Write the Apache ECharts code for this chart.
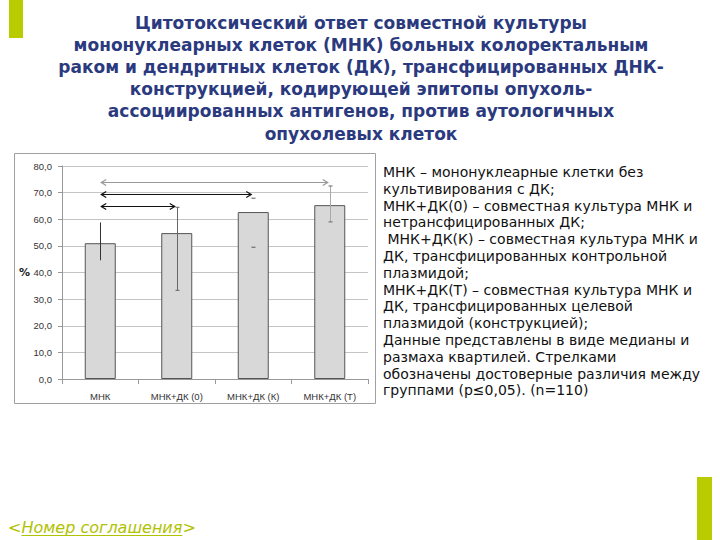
<!DOCTYPE html>
<html><head><meta charset="utf-8">
<script src="https://cdn.jsdelivr.net/npm/echarts@6/dist/echarts.min.js"></script>
<style>html,body{margin:0;padding:0;background:#fff}#c{width:720px;height:540px}</style>
</head><body><div id="c"></div>
<script>
var categories = ['МНК', 'МНК+ДК (0)', 'МНК+ДК (К)', 'МНК+ДК (Т)'];
var medians = [51.0, 54.8, 62.7, 65.3];
var q1 = [44.6, 33.3, 49.5, 59.0];
var q3 = [58.8, 64.5, 67.9, 72.5];
// significance arrows: [from category, to category, level]
var arrowsData = [[0, 1, 64.8], [0, 2, 69.4], [0, 3, 73.9]];
var yTicks = {min: 0, max: 80, interval: 10};

var titleLines = [
  'Цитотоксический ответ совместной культуры',
  'мононуклеарных клеток (МНК) больных колоректальным',
  'раком и дендритных клеток (ДК), трансфицированных ДНК-',
  'конструкцией, кодирующей эпитопы опухоль-',
  'ассоциированных антигенов, против аутологичных',
  'опухолевых клеток'
];
var noteLines = [
  'МНК – мононуклеарные клетки без',
  'культивирования с ДК;',
  'МНК+ДК(0) – совместная культура МНК и',
  'нетрансфицированных ДК;',
  ' МНК+ДК(К) – совместная культура МНК и',
  'ДК, трансфицированных контрольной',
  'плазмидой;',
  'МНК+ДК(Т) – совместная культура МНК и',
  'ДК, трансфицированных целевой',
  'плазмидой (конструкцией);',
  'Данные представлены в виде медианы и',
  'размаха квартилей. Стрелками',
  'обозначены достоверные различия между',
  'группами (р≤0,05). (n=110)'
];
var footerText = 'Номер соглашения';

var errStyles = [
  {line: '#333', cap: 0, w: 1},
  {line: '#666', cap: 4, w: 1},
  {line: null, cap: 4, w: 1, capColor: '#555'},
  {line: '#aaa', cap: 4, w: 1, capColor: '#666'}
];
var arrowColors = ['#111', '#111', '#999'];

function measure(text, font) {
  var ctx = document.createElement('canvas').getContext('2d');
  ctx.font = font;
  return ctx.measureText(text).width;
}

var chart = echarts.init(document.getElementById('c'), null, {renderer: 'svg'});

var green = '#b8cc00';
var footColor = '#b0c200';
var footFont = 'italic 16px "DejaVu Sans"';
var graphics = [
  {type: 'rect', shape: {x: 9, y: 0, width: 14, height: 38}, style: {fill: green}},
  {type: 'rect', shape: {x: 697, y: 477, width: 15, height: 63}, style: {fill: green}},
  {type: 'rect', shape: {x: 14.5, y: 153.5, width: 361, height: 250}, style: {fill: 'none', stroke: '#a0a0a0', lineWidth: 1}, z: -1},
  {type: 'text', x: 19, y: 272, style: {text: '%', fill: '#222', font: 'bold 11px "DejaVu Sans"', verticalAlign: 'middle'}}
];
titleLines.forEach(function (t, i) {
  graphics.push({type: 'text', x: 361, y: 23 + i * 22.1, style: {text: t, fill: '#2b3a7e', font: 'bold 17px "DejaVu Sans"', align: 'center', verticalAlign: 'middle'}});
});
noteLines.forEach(function (t, i) {
  graphics.push({type: 'text', x: 383, y: 172 + i * 16.8, style: {text: t, fill: '#111', font: '14px "DejaVu Sans"', align: 'left', verticalAlign: 'middle'}});
});
var wLt = measure('<', footFont);
var wMid = measure(footerText, footFont);
var fx = 8;
graphics.push({type: 'text', x: fx, y: 527, style: {text: '<', fill: footColor, font: footFont, verticalAlign: 'middle'}});
graphics.push({type: 'text', x: fx + wLt, y: 527, style: {text: footerText, fill: footColor, font: footFont, verticalAlign: 'middle'}});
graphics.push({type: 'text', x: fx + wLt + wMid, y: 527, style: {text: '>', fill: footColor, font: footFont, verticalAlign: 'middle'}});
graphics.push({type: 'line', shape: {x1: fx + wLt, y1: 535.5, x2: fx + wLt + wMid, y2: 535.5}, style: {stroke: footColor, lineWidth: 1}});

var errData = categories.map(function (c, i) { return [i, q1[i], q3[i]]; });

chart.setOption({
  animation: false,
  grid: {left: 62, top: 166, right: 352, bottom: 161, containLabel: false},
  xAxis: {
    type: 'category', data: categories,
    axisLine: {lineStyle: {color: '#999'}},
    axisTick: {show: true, alignWithLabel: false, length: 5, lineStyle: {color: '#999'}},
    axisLabel: {color: '#333', fontSize: 9.5, fontFamily: 'Liberation Sans', margin: 12}
  },
  yAxis: {
    type: 'value', min: yTicks.min, max: yTicks.max, interval: yTicks.interval,
    axisLine: {show: true, lineStyle: {color: '#999'}},
    axisTick: {show: true, length: 4, lineStyle: {color: '#999'}},
    splitLine: {lineStyle: {color: '#c4c4c4'}},
    axisLabel: {color: '#333', fontSize: 9.5, fontFamily: 'Liberation Sans', margin: 10,
      formatter: function (v) { return v.toFixed(1).replace('.', ','); }}
  },
  graphic: graphics,
  series: [
    {type: 'bar', data: medians, barWidth: 31,
      itemStyle: {color: '#d8d8d8', borderColor: '#555', borderWidth: 1}},
    {type: 'custom', data: errData, z: 5,
      renderItem: function (params, api) {
        var i = api.value(0);
        var st = errStyles[i];
        var lo = api.coord([i, api.value(1)]);
        var hi = api.coord([i, api.value(2)]);
        var x = Math.round(lo[0]) + 0.5;
        var children = [];
        if (st.line) children.push({type: 'line', shape: {x1: x, y1: lo[1], x2: x, y2: hi[1]}, style: {stroke: st.line, lineWidth: st.w}});
        if (st.cap) {
          var cc = st.capColor || st.line;
          children.push({type: 'line', shape: {x1: x - st.cap / 2, y1: lo[1], x2: x + st.cap / 2, y2: lo[1]}, style: {stroke: cc, lineWidth: 1}});
          children.push({type: 'line', shape: {x1: x - st.cap / 2, y1: hi[1], x2: x + st.cap / 2, y2: hi[1]}, style: {stroke: cc, lineWidth: 1}});
        }
        return {type: 'group', children: children};
      }},
    {type: 'custom', data: arrowsData, z: 6,
      renderItem: function (params, api) {
        var a = api.coord([api.value(0), api.value(2)]);
        var b = api.coord([api.value(1), api.value(2)]);
        var col = arrowColors[params.dataIndex];
        var y = Math.round(a[1]) + 0.5;
        var x1 = a[0] + 1, x2 = b[0] - 2;
        return {type: 'group', children: [
          {type: 'line', shape: {x1: x1, y1: y, x2: x2, y2: y}, style: {stroke: col, lineWidth: 1.2}},
          {type: 'polyline', shape: {points: [[x1 + 5, y - 3], [x1, y], [x1 + 5, y + 3]]}, style: {stroke: col, lineWidth: 1.2, fill: null}},
          {type: 'polyline', shape: {points: [[x2 - 5, y - 3], [x2, y], [x2 - 5, y + 3]]}, style: {stroke: col, lineWidth: 1.2, fill: null}}
        ]};
      }}
  ]
});
</script></body></html>
